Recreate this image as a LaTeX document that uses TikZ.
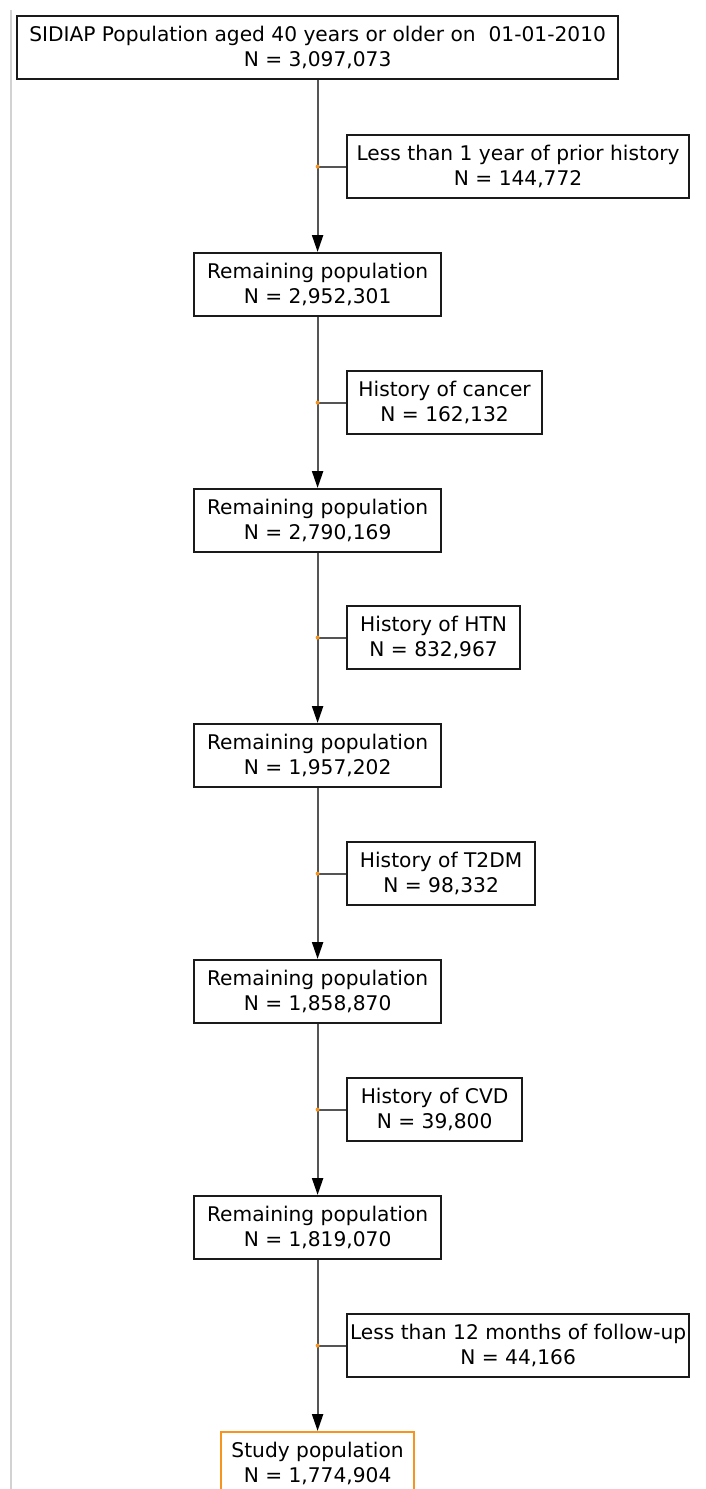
\documentclass[tikz,border=0pt]{standalone}
\usepackage{fontspec}
\setmainfont{DejaVu Sans}
\usetikzlibrary{arrows.meta}
\definecolor{boxline}{HTML}{1A1A1A}
\definecolor{linkgray}{HTML}{555555}
\definecolor{dotorange}{HTML}{F7941D}
\definecolor{finalorange}{HTML}{F7941D}
\definecolor{edgegray}{HTML}{D2D2D2}
\begin{document}
\begin{tikzpicture}[x=1pt,y=-1pt,
  box/.style={draw=boxline, line width=2.2pt, fill=white, rectangle, anchor=north west,
    minimum height=63pt, inner sep=0pt, align=center,
    font=\fontsize{20.2pt}{25pt}\selectfont},
  flow/.style={draw=linkgray, line width=2.2pt, -{Triangle[length=17pt,width=11pt,color=black]}},
  branch/.style={draw=linkgray, line width=2.2pt},
  jdot/.style={fill=dotorange, circle, inner sep=0pt, minimum size=4pt}]
\useasboundingbox (0,0) rectangle (706,1489);
\clip (0,0) rectangle (706,1489);

% thin rule along the left margin
\coordinate (edgetop) at (11,10);
\coordinate (edgebot) at (11,1489);
\draw[edgegray, line width=1.5pt] (edgetop) -- (edgebot);

% main column
\node[box, minimum width=601pt] (start) at (16,15)
  {SIDIAP Population aged 40 years or older on\ \ 01-01-2010\\N = 3,097,073};
\node[box, minimum width=247pt] (r1) at (193,252) {Remaining population\\N = 2,952,301};
\node[box, minimum width=247pt] (r2) at (193,488) {Remaining population\\N = 2,790,169};
\node[box, minimum width=247pt] (r3) at (193,723) {Remaining population\\N = 1,957,202};
\node[box, minimum width=247pt] (r4) at (193,959) {Remaining population\\N = 1,858,870};
\node[box, minimum width=247pt] (r5) at (193,1195) {Remaining population\\N = 1,819,070};
\node[box, draw=finalorange, minimum width=193pt] (final) at (220,1431)
  {Study population\\N = 1,774,904};

% exclusion boxes
\node[box, minimum width=342pt] (ex1) at (346,134) {Less than 1 year of prior history\\N = 144,772};
\node[box, minimum width=195pt] (ex2) at (346,370) {History of cancer\\N = 162,132};
\node[box, minimum width=173pt] (ex3) at (346,605) {History of HTN\\N = 832,967};
\node[box, minimum width=188pt] (ex4) at (346,841) {History of T2DM\\N = 98,332};
\node[box, minimum width=175pt] (ex5) at (346,1077) {History of CVD\\N = 39,800};
\node[box, minimum width=342pt] (ex6) at (346,1313) {Less than 12 months of follow-up\\N = 44,166};

% vertical flow
\draw[flow] (start.south) -- (r1.north);
\draw[flow] (r1.south) -- (r2.north);
\draw[flow] (r2.south) -- (r3.north);
\draw[flow] (r3.south) -- (r4.north);
\draw[flow] (r4.south) -- (r5.north);
\draw[flow] (r5.south) -- (final.north);

% side branches with junction dots
\coordinate (j1) at (start.south |- ex1.west);
\coordinate (j2) at (r1.south |- ex2.west);
\coordinate (j3) at (r2.south |- ex3.west);
\coordinate (j4) at (r3.south |- ex4.west);
\coordinate (j5) at (r4.south |- ex5.west);
\coordinate (j6) at (r5.south |- ex6.west);
\draw[branch] (j1) -- (ex1.west);
\draw[branch] (j2) -- (ex2.west);
\draw[branch] (j3) -- (ex3.west);
\draw[branch] (j4) -- (ex4.west);
\draw[branch] (j5) -- (ex5.west);
\draw[branch] (j6) -- (ex6.west);
\node[jdot] (d1) at (j1) {};
\node[jdot] (d2) at (j2) {};
\node[jdot] (d3) at (j3) {};
\node[jdot] (d4) at (j4) {};
\node[jdot] (d5) at (j5) {};
\node[jdot] (d6) at (j6) {};
\end{tikzpicture}
\end{document}
